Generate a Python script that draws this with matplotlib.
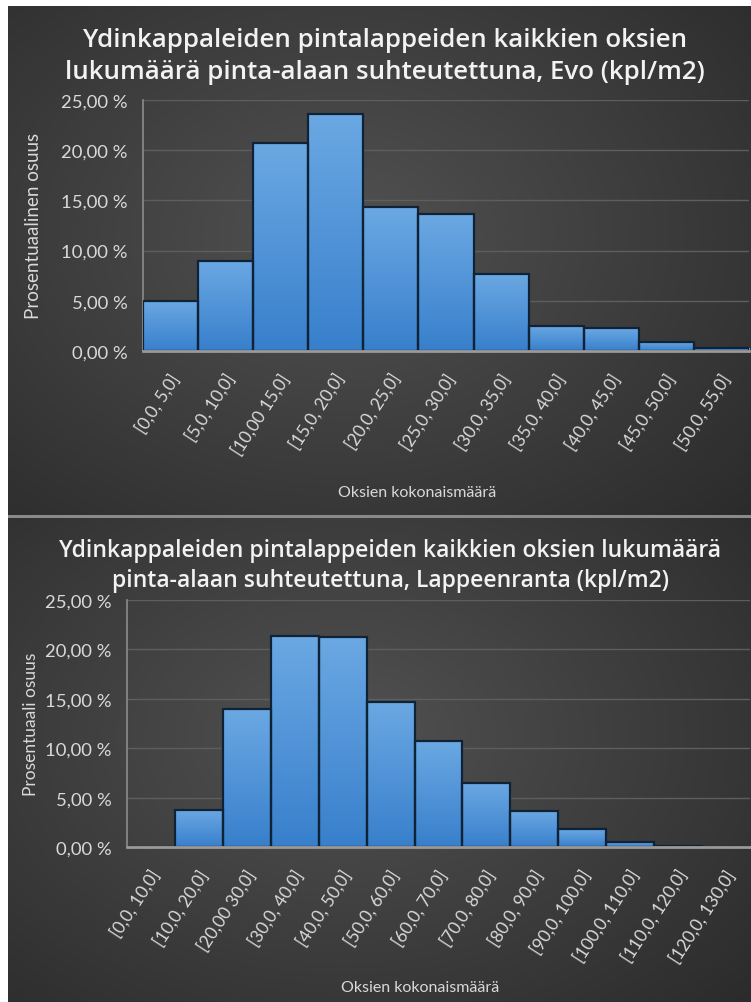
import numpy as np
import matplotlib
matplotlib.use("Agg")
import matplotlib.pyplot as plt

# ---- data ----
evo_labels = ["[0,0, 5,0]", "[5,0, 10,0]", "[10,00 15,0]", "[15,0, 20,0]", "[20,0, 25,0]",
              "[25,0, 30,0]", "[30,0, 35,0]", "[35,0, 40,0]", "[40,0, 45,0]", "[45,0, 50,0]",
              "[50,0, 55,0]"]
evo_values = [5.0, 9.0, 20.7, 23.6, 14.3, 13.6, 7.7, 2.5, 2.25, 0.93, 0.27]

lpr_labels = ["[0,0, 10,0]", "[10,0, 20,0]", "[20,00 30,0]", "[30,0, 40,0]", "[40,0, 50,0]",
              "[50,0, 60,0]", "[60,0, 70,0]", "[70,0, 80,0]", "[80,0, 90,0]", "[90,0, 100,0]",
              "[100,0, 110,0]", "[110,0, 120,0]", "[120,0, 130,0]"]
lpr_values = [0.0, 3.8, 14.0, 21.4, 21.3, 14.7, 10.7, 6.5, 3.65, 1.8, 0.57, 0.16, 0.0]

yticks = [0, 5, 10, 15, 20, 25]
ytick_labels = ["0,00 %", "5,00 %", "10,00 %", "15,00 %", "20,00 %", "25,00 %"]

title_evo = "Ydinkappaleiden pintalappeiden kaikkien oksien\nlukumäärä pinta-alaan suhteutettuna, Evo (kpl/m2)"
title_lpr = "Ydinkappaleiden pintalappeiden kaikkien oksien lukumäärä\npinta-alaan suhteutettuna, Lappeenranta (kpl/m2)"
ylabel_evo = "Prosentuaalinen osuus"
ylabel_lpr = "Prosentuaali osuus"
xlabel = "Oksien kokonaismäärä"

W, H = 751, 1003
fig = plt.figure(figsize=(W / 100, H / 100), dpi=100)
fig.patch.set_facecolor("white")

TXT = "#d9d9d9"
FONT = "Lato"


def fx(px):
    return px / W


def fy(py):
    return 1 - py / H


def panel_bg(top_px, bot_px):
    ax = fig.add_axes([fx(8), fy(bot_px), 1 - fx(8), (bot_px - top_px) / H])
    ny, nx = 200, 200
    yy, xx = np.mgrid[0:1:ny * 1j, 0:1:nx * 1j]
    r = np.sqrt(((xx - 0.45) / 0.75) ** 2 + ((yy - 0.45) / 0.8) ** 2)
    v = np.clip(0.32 - 0.15 * r, 0.15, 0.33)
    img = np.dstack([v, v, v])
    ax.imshow(img, extent=[0, 1, 0, 1], aspect="auto", origin="upper", interpolation="bilinear")
    ax.set_xlim(0, 1)
    ax.set_ylim(0, 1)
    ax.axis("off")
    ax.set_zorder(-10)
    return ax


panel_bg(7, 516)
panel_bg(519, 1003)
sep = fig.add_axes([fx(8), fy(518.5), 1 - fx(8), 2.5 / H])
sep.set_facecolor("#8a8a8a")
sep.set_xticks([]); sep.set_yticks([])
for s in sep.spines.values():
    s.set_visible(False)

grad = np.linspace(0, 1, 100).reshape(-1, 1)
top_c = np.array([0.42, 0.66, 0.89])
bot_c = np.array([0.22, 0.50, 0.80])
bar_img = (top_c[None, None, :] * (1 - grad[:, :, None]) + bot_c[None, None, :] * grad[:, :, None])


def draw_hist(rect, labels, values, ylabel, ylabel_pos, ylabel_size, title, title_y, title_x,
              title_size, title_ls, xlabel_pos, label_dy):
    ax = fig.add_axes(rect)
    ax.patch.set_alpha(0)
    n = len(values)
    x = np.arange(n)
    bars = ax.bar(x, values, width=1.0, color="none", edgecolor="#0f2236", linewidth=1.6, zorder=4)
    for b in bars:
        if b.get_height() <= 0:
            continue
        im = ax.imshow(bar_img, extent=[b.get_x(), b.get_x() + b.get_width(), 0, b.get_height()],
                       aspect="auto", origin="upper", zorder=3, interpolation="bilinear")
        im.set_clip_path(b)
    ax.set_xlim(-0.5, n - 0.5)
    ax.set_ylim(0, 25)
    ax.set_yticks(yticks)
    ax.set_yticklabels(ytick_labels, fontsize=13.3, color=TXT, family=FONT)
    ax.grid(axis="y", color="#5e5e5e", linewidth=1.0, zorder=0)
    ax.set_axisbelow(True)
    ax.tick_params(axis="y", length=0, pad=11)
    ax.tick_params(axis="x", length=0)
    ax.set_xticks(x)
    ax.set_xticklabels([])
    for xi, lab in zip(x, labels):
        ax.annotate(lab, xy=(xi, 0), xycoords="data", xytext=(4, label_dy), textcoords="offset points",
                    rotation=57, rotation_mode="anchor", ha="right", va="center",
                    fontsize=12.5, color=TXT, family=FONT)
    for s in ["top", "right"]:
        ax.spines[s].set_visible(False)
    ax.spines["left"].set_color("#8c8c8c")
    ax.spines["left"].set_linewidth(1.2)
    ax.spines["bottom"].set_color("#9a9a9a")
    ax.spines["bottom"].set_linewidth(2.0)
    ax.spines["bottom"].set_zorder(5)
    fig.text(fx(ylabel_pos[0]), fy(ylabel_pos[1]), ylabel, rotation=90, ha="center", va="center",
             fontsize=ylabel_size, color=TXT, family=FONT)
    fig.text(fx(title_x), fy(title_y), title, ha="center", va="center", fontsize=title_size,
             fontweight="semibold", color="#f2f2f2", family="Open Sans", linespacing=title_ls)
    fig.text(fx(xlabel_pos[0]), fy(xlabel_pos[1]), xlabel, ha="center", va="center",
             fontsize=11.5, color=TXT, family=FONT)
    return ax


draw_hist([fx(143), fy(352), fx(749) - fx(143), 251 / H], evo_labels, evo_values,
          ylabel_evo, (34, 226), 13.5, title_evo, 56.5, 385, 18.6, 1.38, (417, 493), -17)
draw_hist([fx(127), fy(848.3), fx(750) - fx(127), 247.3 / H], lpr_labels, lpr_values,
          ylabel_lpr, (31, 724), 12.5, title_lpr, 566, 390, 16.6, 1.32, (420, 988), -17)

fig.savefig("out.png", dpi=100, facecolor=fig.get_facecolor())
